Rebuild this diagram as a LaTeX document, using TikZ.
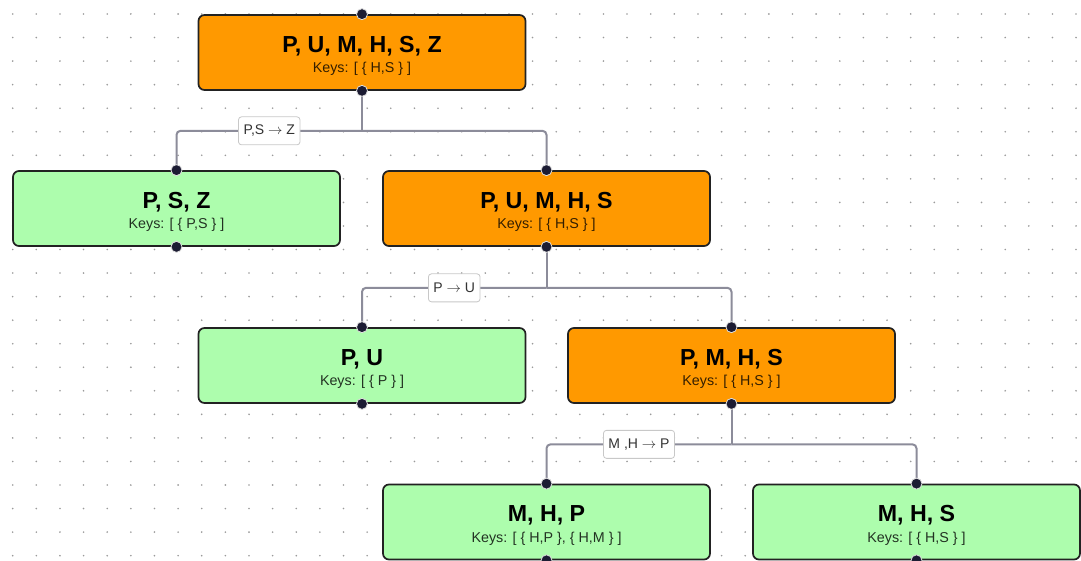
\documentclass[tikz,border=0pt]{standalone}
\usepackage{fontspec}
\setmainfont{Liberation Sans}
\definecolor{orangefill}{HTML}{FF9900}
\definecolor{greenfill}{HTML}{ADFDAD}
\definecolor{boxline}{HTML}{222222}
\definecolor{connc}{HTML}{8C8C9A}
\definecolor{portc}{HTML}{1C1C33}
\definecolor{gridc}{HTML}{9A9A9A}
\definecolor{lblline}{HTML}{C8C8C8}
\newcommand{\arr}{ $\rightarrow$ }
\begin{document}
\begin{tikzpicture}[x=1pt,y=-1pt,
  box/.style={rectangle, rounded corners=6pt, draw=boxline, line width=1.7pt,
    minimum width=327pt, minimum height=75pt, inner sep=0pt},
  orangebox/.style={box, fill=orangefill},
  greenbox/.style={box, fill=greenfill},
  ttl/.style={font=\fontsize{23.2}{24}\selectfont\bfseries, text=black, inner sep=0pt, anchor=base},
  keys/.style={font=\fontsize{14.3}{16}\selectfont, text=black, text opacity=0.8, inner sep=0pt, anchor=base},
  conn/.style={draw=connc, line width=2pt},
  lbl/.style={draw=lblline, fill=white, rounded corners=3pt, line width=0.8pt,
    font=\fontsize{14}{16}\selectfont, text=black!80, minimum height=28pt,
    inner xsep=5pt, inner ysep=0pt},
  port/.style={fill=portc, draw=white!75!gray, line width=0.8pt}]
\useasboundingbox (0,0) rectangle (1081,561);
\fill[white] (0,0) rectangle (1081,561);
% dotted grid
\foreach \i in {0,...,45}{
  \foreach \j in {0,...,23}{
    \fill[gridc] (12.7+23.63*\i, 14+23.55*\j) circle[radius=0.9pt];
  }
}
% boxes
\node[orangebox] (b1) at (362,52.5) {};
\node[greenbox]  (b2) at (176.5,208.5) {};
\node[orangebox] (b3) at (546.5,208.5) {};
\node[greenbox]  (b4) at (362,365.5) {};
\node[orangebox] (b5) at (731.5,365.5) {};
\node[greenbox]  (b6) at (546.5,522) {};
\node[greenbox]  (b7) at (916.5,522) {};
% texts
\node[ttl]  (b1t) at ([yshift=-38pt]b1.north) {P, U, M, H, S, Z};
\node[keys] (b1k) at ([yshift=-58.5pt]b1.north) {Keys: [ \{ H,S \} ]};
\node[ttl]  (b2t) at ([yshift=-38pt]b2.north) {P, S, Z};
\node[keys] (b2k) at ([yshift=-58.5pt]b2.north) {Keys: [ \{ P,S \} ]};
\node[ttl]  (b3t) at ([yshift=-38pt]b3.north) {P, U, M, H, S};
\node[keys] (b3k) at ([yshift=-58.5pt]b3.north) {Keys: [ \{ H,S \} ]};
\node[ttl]  (b4t) at ([yshift=-38pt]b4.north) {P, U};
\node[keys] (b4k) at ([yshift=-58.5pt]b4.north) {Keys: [ \{ P \} ]};
\node[ttl]  (b5t) at ([yshift=-38pt]b5.north) {P, M, H, S};
\node[keys] (b5k) at ([yshift=-58.5pt]b5.north) {Keys: [ \{ H,S \} ]};
\node[ttl]  (b6t) at ([yshift=-38pt]b6.north) {M, H, P};
\node[keys] (b6k) at ([yshift=-58.5pt]b6.north) {Keys: [ \{ H,P \}, \{ H,M \} ]};
\node[ttl]  (b7t) at ([yshift=-38pt]b7.north) {M, H, S};
\node[keys] (b7k) at ([yshift=-58.5pt]b7.north) {Keys: [ \{ H,S \} ]};
% junctions
\coordinate (j1) at ([yshift=-40pt]b1.south);
\coordinate (j2) at ([yshift=-41pt]b3.south);
\coordinate (j3) at ([yshift=-40.5pt]b5.south);
% connectors
\draw[conn] (b1.south) -- (j1);
\draw[conn, rounded corners=4pt] (j1) -| (b2.north) node[lbl, pos=0.25] (l1) {P,S\arr Z};
\draw[conn, rounded corners=4pt] (j1) -| (b3.north);
\draw[conn] (b3.south) -- (j2);
\draw[conn, rounded corners=4pt] (j2) -| (b4.north) node[lbl, pos=0.25] (l2) {P\arr U};
\draw[conn, rounded corners=4pt] (j2) -| (b5.north);
\draw[conn] (b5.south) -- (j3);
\draw[conn, rounded corners=4pt] (j3) -| (b6.north) node[lbl, pos=0.25] (l3) {M ,H\arr P};
\draw[conn, rounded corners=4pt] (j3) -| (b7.north);
% ports
\foreach \b in {b1,b2,b3,b4,b5,b6,b7}{
  \filldraw[port] (\b.north) circle[radius=5.5pt];
  \filldraw[port] (\b.south) circle[radius=5.5pt];
}
\end{tikzpicture}
\end{document}
